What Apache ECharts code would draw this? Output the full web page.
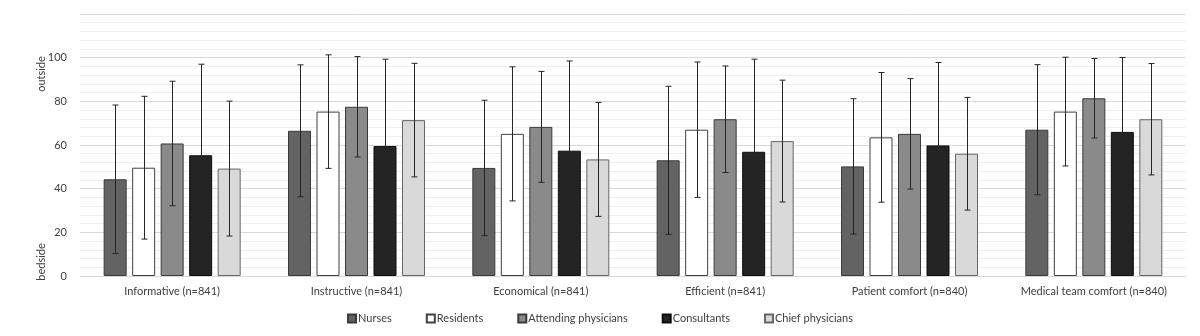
<!DOCTYPE html>
<html>
<head>
<meta charset="utf-8">
<script src="https://cdn.jsdelivr.net/npm/echarts@6/dist/echarts.min.js"></script>
<style>html,body{margin:0;padding:0;background:#fff}#c{width:1200px;height:336px}</style>
</head>
<body>
<div id="c"></div>
<script>
const categories = ['Informative (n=841)', 'Instructive (n=841)', 'Economical (n=841)', 'Efficient (n=841)', 'Patient comfort (n=840)', 'Medical team comfort (n=840)'];
const seriesNames = ['Nurses', 'Residents', 'Attending physicians', 'Consultants', 'Chief physicians'];
const nursesMean = [44.3, 66.5, 49.5, 53.0, 50.2, 67.0];
const nursesSD = [34.0, 30.2, 31.0, 33.9, 31.0, 29.8];
const residentsMean = [49.6, 75.3, 65.1, 67.0, 63.5, 75.3];
const residentsSD = [32.7, 26.0, 30.7, 31.0, 29.7, 24.9];
const attendingMean = [60.7, 77.5, 68.3, 71.8, 65.1, 81.4];
const attendingSD = [28.5, 23.0, 25.4, 24.4, 25.3, 18.2];
const consultantsMean = [55.3, 59.5, 57.4, 56.9, 59.8, 66.0];
const consultantsSD = [41.7, 39.8, 41.1, 42.4, 38.0, 34.1];
const chiefMean = [49.2, 71.4, 53.4, 61.8, 56.0, 71.8];
const chiefSD = [30.9, 26.0, 26.1, 27.9, 25.8, 25.5];
const yTickLabels = [0, 20, 40, 60, 80, 100];

const means = [nursesMean, residentsMean, attendingMean, consultantsMean, chiefMean];
const sds = [nursesSD, residentsSD, attendingSD, consultantsSD, chiefSD];
const fills = ['#636363', '#ffffff', '#8a8a8a', '#242424', '#d9d9d9'];
const borders = ['#3a3a3a', '#404040', '#3a3a3a', '#0d0d0d', '#666666'];
const BAR_W = 23, BAR_GAP = 5.5;
const FONT = 'Lato';

const series = [];
seriesNames.forEach((name, i) => {
  series.push({
    name: name, type: 'bar', data: means[i], barWidth: BAR_W,
    barGap: (BAR_GAP / BAR_W * 100) + '%',
    itemStyle: {color: fills[i], borderColor: borders[i], borderWidth: 1},
    emphasis: {disabled: true}, z: 2
  });
});
seriesNames.forEach((name, i) => {
  series.push({
    name: 'err' + i, type: 'custom', z: 5,
    data: means[i].map((m, k) => [k, m - sds[i][k], m + sds[i][k]]),
    renderItem: function (params, api) {
      const k = api.value(0);
      const lo = api.coord([k, api.value(1)]);
      const hi = api.coord([k, api.value(2)]);
      const x = Math.round(lo[0] + (i - 2) * (BAR_W + BAR_GAP)) + 0.5;
      const cap = 3;
      const st = {stroke: '#262626', lineWidth: 1};
      return {type: 'group', children: [
        {type: 'line', shape: {x1: x, y1: hi[1], x2: x, y2: lo[1]}, style: st},
        {type: 'line', shape: {x1: x - cap, y1: hi[1], x2: x + cap, y2: hi[1]}, style: st},
        {type: 'line', shape: {x1: x - cap, y1: lo[1], x2: x + cap, y2: lo[1]}, style: st}
      ]};
    }
  });
});

const chart = echarts.init(document.getElementById('c'), null, {renderer: 'canvas'});
chart.setOption({
  animation: false,
  backgroundColor: '#ffffff',
  grid: {left: 80, right: 14, top: 14, bottom: 60},
  legend: {
    data: seriesNames, bottom: 7, left: 'center', itemWidth: 8, itemHeight: 8,
    itemGap: 34, icon: 'rect',
    textStyle: {fontFamily: FONT, fontSize: 11, color: '#404040', padding: [0, 0, 0, -3]}
  },
  xAxis: {
    type: 'category', data: categories,
    axisLine: {lineStyle: {color: '#d9d9d9'}}, axisTick: {show: false},
    axisLabel: {interval: 0, margin: 10, fontFamily: FONT, fontSize: 11, color: '#404040'}
  },
  yAxis: {
    type: 'value', min: 0, max: 120, interval: 20,
    axisLine: {show: false}, axisTick: {show: false},
    axisLabel: {margin: 13, fontFamily: FONT, fontSize: 11, color: '#404040',
      formatter: v => yTickLabels.indexOf(v) >= 0 ? String(v) : ''},
    splitLine: {lineStyle: {color: '#d9d9d9'}},
    minorTick: {show: true, splitNumber: 5, length: 0},
    minorSplitLine: {show: true, lineStyle: {color: '#efefef'}}
  },
  graphic: [
    {type: 'text', x: 41, y: 74, rotation: Math.PI / 2,
      style: {text: 'outside', fontFamily: FONT, fontSize: 11, fill: '#404040', align: 'center', verticalAlign: 'middle'}},
    {type: 'text', x: 41, y: 262, rotation: Math.PI / 2,
      style: {text: 'bedside', fontFamily: FONT, fontSize: 11, fill: '#404040', align: 'center', verticalAlign: 'middle'}}
  ],
  series: series
});
</script>
</body>
</html>
